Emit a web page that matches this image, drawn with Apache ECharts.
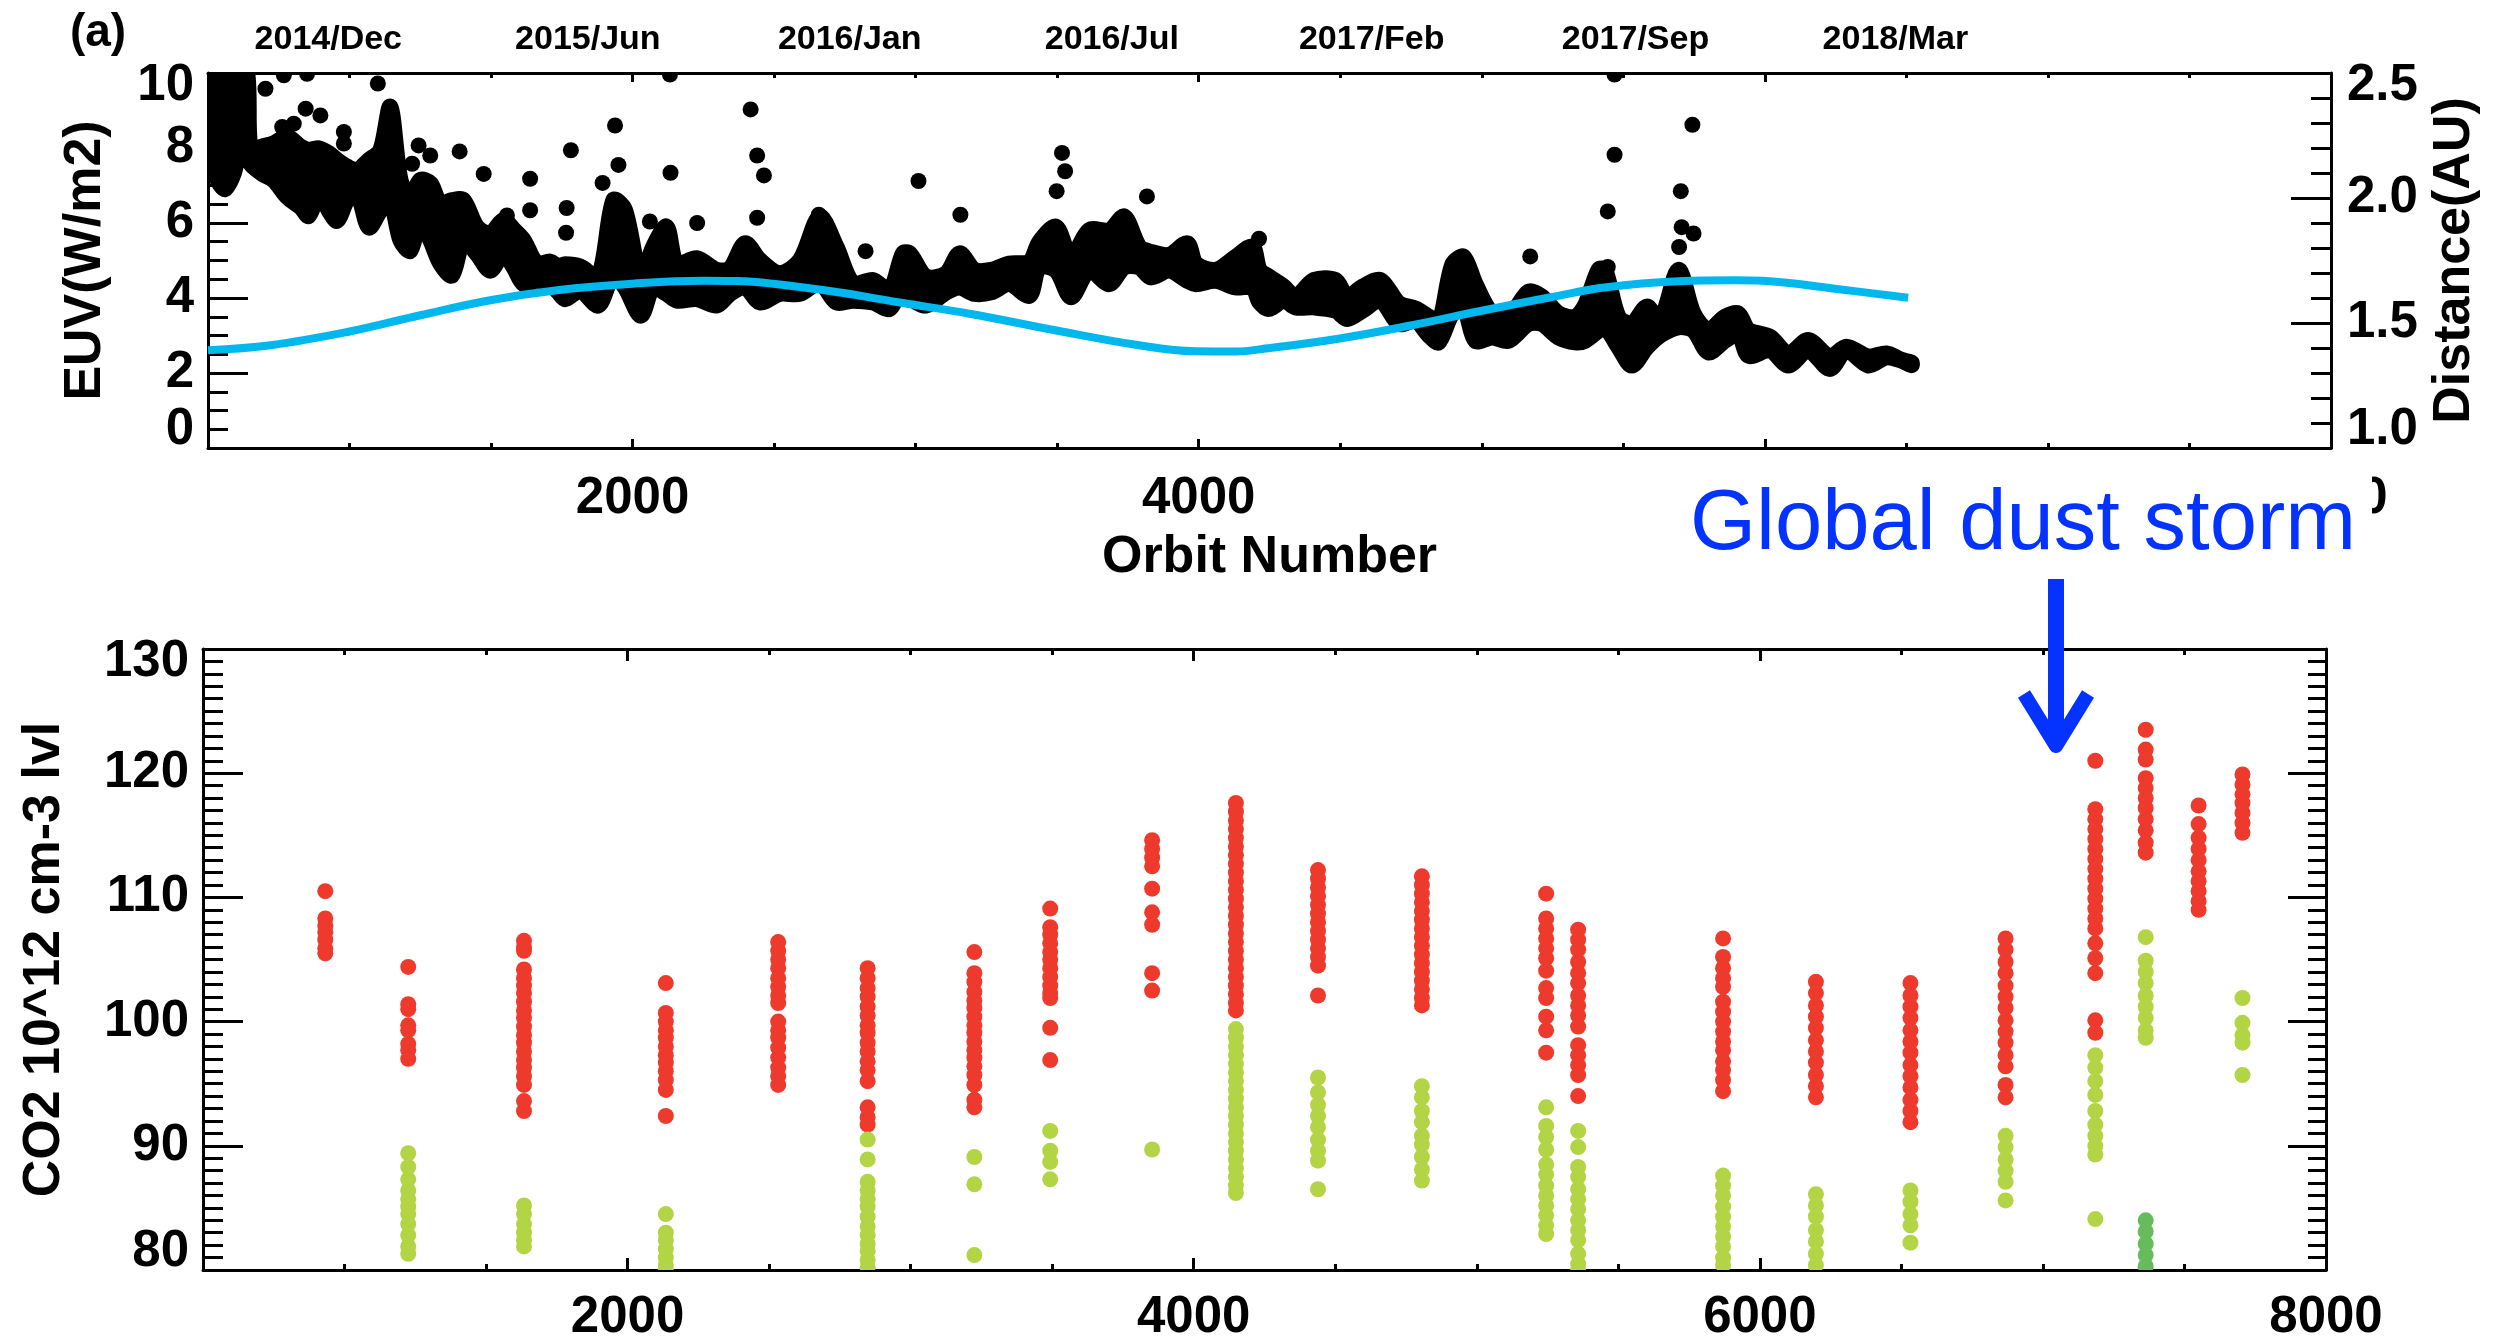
<!DOCTYPE html>
<html>
<head>
<meta charset="utf-8">
<script src="https://cdn.jsdelivr.net/npm/echarts@6/dist/echarts.min.js"></script>
<style>
  html, body { margin: 0; padding: 0; background: #fff; }
  #chart { width: 2505px; height: 1343px; }
</style>
</head>
<body>
<div id="chart"></div>
<script>
// ---------- axis ticks and labels ----------
const orbitTicks = [2000, 4000, 6000, 8000];
const dateOrbits = [925, 1842, 2767, 3693, 4611, 5543, 6461];
const dateLabels = ['2014/Dec', '2015/Jun', '2016/Jan', '2016/Jul', '2017/Feb', '2017/Sep', '2018/Mar'];

// ---------- panel (a): EUV irradiance, per-orbit spread [orbit, low, high] ----------
const euvBand = [
  [505, 8.0, 10.3], [530, 7.2, 10.3], [560, 6.9, 10.3], [590, 7.3, 10.3], [615, 8.0, 10.3], [640, 7.9, 9.9],
  [651, 7.57, 7.95], [692, 7.31, 8.04], [733, 7.13, 8.13], [780, 6.69, 8.30], [827, 6.42, 8.04], [856, 6.19, 7.95],
  [892, 6.77, 7.99], [927, 6.33, 7.86], [956, 6.06, 7.68], [992, 6.60, 7.50], [1027, 6.77, 7.41], [1068, 5.88, 7.68],
  [1109, 6.33, 7.95], [1144, 6.59, 9.10], [1180, 5.53, 7.15], [1215, 5.26, 6.70], [1250, 6.06, 7.15], [1286, 5.53, 7.06],
  [1321, 4.91, 6.52], [1362, 4.60, 6.61], [1403, 5.53, 6.61], [1450, 5.17, 5.90], [1497, 4.73, 5.72], [1544, 5.17, 6.08],
  [1580, 4.81, 5.83], [1615, 4.37, 5.55], [1662, 4.46, 4.92], [1709, 4.37, 4.97], [1738, 4.15, 4.84], [1762, 3.97, 4.90],
  [1815, 4.19, 4.84], [1879, 3.80, 4.57], [1932, 4.60, 6.61], [1973, 4.28, 6.35], [2029, 3.53, 4.57], [2073, 4.28, 5.37],
  [2120, 4.11, 5.90], [2156, 3.93, 4.92], [2226, 3.97, 5.06], [2297, 3.80, 4.75], [2344, 4.11, 4.79], [2397, 4.28, 5.46],
  [2450, 3.88, 5.01], [2520, 4.11, 4.66], [2591, 4.11, 5.01], [2661, 4.40, 6.17], [2720, 3.88, 5.37], [2779, 3.93, 4.39],
  [2849, 3.88, 4.48], [2908, 3.71, 4.21], [2955, 4.37, 5.19], [2979, 4.02, 5.19], [3037, 3.80, 4.57], [3108, 4.15, 4.66],
  [3155, 4.28, 5.19], [3208, 4.11, 4.75], [3267, 4.15, 4.75], [3331, 4.37, 4.92], [3402, 4.06, 4.97], [3437, 4.82, 5.50],
  [3496, 4.73, 5.90], [3549, 4.02, 5.10], [3613, 4.73, 5.81], [3684, 4.37, 5.81], [3737, 4.82, 6.17], [3790, 4.82, 5.37],
  [3831, 4.55, 5.23], [3896, 4.73, 5.15], [3960, 4.46, 5.46], [3990, 4.37, 4.92], [4060, 4.46, 4.75], [4131, 4.28, 5.10],
  [4190, 4.28, 5.37], [4215, 3.88, 4.75], [4248, 3.71, 4.57], [4301, 3.93, 4.30], [4342, 3.75, 4.04], [4407, 3.75, 4.48],
  [4483, 3.66, 4.48], [4525, 3.44, 4.04], [4578, 3.66, 4.30], [4642, 3.93, 4.48], [4707, 3.31, 3.86], [4766, 3.39, 3.72],
  [4813, 3.00, 3.50], [4848, 2.82, 3.32], [4895, 3.57, 4.88], [4936, 3.75, 5.10], [4977, 2.86, 4.39], [5036, 2.95, 3.59],
  [5095, 2.86, 3.50], [5165, 3.31, 4.17], [5212, 3.31, 4.04], [5271, 2.95, 3.59], [5330, 2.82, 3.50], [5365, 2.86, 3.81],
  [5412, 3.13, 4.75], [5436, 3.22, 4.75], [5483, 2.68, 3.50], [5530, 2.20, 3.32], [5583, 2.68, 3.77], [5630, 3.00, 3.41],
  [5695, 3.22, 4.75], [5748, 3.13, 3.59], [5800, 2.55, 3.15], [5859, 2.86, 3.50], [5906, 3.04, 3.59], [5942, 2.46, 3.15],
  [6018, 2.60, 2.97], [6083, 2.20, 2.52], [6153, 2.60, 2.88], [6230, 2.11, 2.44], [6288, 2.60, 2.70], [6365, 2.20, 2.44],
  [6430, 2.42, 2.52], [6482, 2.33, 2.35], [6518, 2.21, 2.28]
];

// isolated high-irradiance orbits [orbit, W/m2]
const euvFlares = [
  [703, 9.58], [768, 9.94], [850, 9.98], [845, 9.05], [897, 8.87], [803, 8.65], [762, 8.56], [980, 8.43], [980, 8.12],
  [1100, 9.72], [1244, 8.07], [1285, 7.80], [1221, 7.58], [1389, 7.91], [1474, 7.31], [1638, 7.18], [1638, 6.34],
  [1556, 6.20], [1782, 7.94], [1767, 6.40], [1765, 5.74], [1938, 8.60], [1950, 7.55], [1894, 7.07], [2132, 9.96],
  [2134, 7.34], [2417, 9.03], [2440, 7.80], [2464, 7.27], [2440, 6.14], [2228, 6.00], [2061, 6.04], [2823, 5.25],
  [2658, 6.22], [3010, 7.12], [3158, 6.22], [3517, 7.87], [3528, 7.38], [3498, 6.85], [3817, 6.71], [4213, 5.58],
  [5171, 5.11], [5469, 9.96], [5469, 7.82], [5445, 6.31], [5744, 8.62], [5703, 6.85], [5706, 5.89], [5748, 5.72],
  [5697, 5.36], [5445, 4.83]
];

// Mars heliocentric distance [orbit, AU]
const marsDistance = [
  [500, 1.391], [721, 1.411], [992, 1.464], [1250, 1.531], [1497, 1.591], [1740, 1.632], [2000, 1.657], [2250, 1.669],
  [2367, 1.668], [2497, 1.657], [2720, 1.624], [2955, 1.580], [3190, 1.537], [3493, 1.471], [3778, 1.413], [3990, 1.387],
  [4131, 1.386], [4225, 1.396], [4493, 1.437], [4754, 1.491], [4991, 1.547], [5248, 1.604], [5440, 1.643], [5695, 1.667],
  [5895, 1.671], [5992, 1.669], [6247, 1.637], [6506, 1.601]
];

// ---------- panel (b): CO2 density columns per orbit ----------
const redOrbits = [932, 1225, 1634, 2135, 2532, 2848, 3225, 3493, 3853, 4149, 4439, 4806, 5245, 5358, 5870, 6198, 6532, 6868, 7185, 7363, 7550, 7705];
const redValues = [
  [110.5, 108.3, 107.7, 107.2, 106.6, 105.9, 105.5],
  [104.4, 101.4, 101.0, 99.7, 99.3, 98.2, 97.7, 97.0],
  [106.5, 106.0, 105.7, 104.2, 103.5, 102.9, 102.3, 101.6, 100.9, 100.3, 99.6, 98.9, 98.3, 97.6, 96.9, 96.3, 95.6, 94.9, 93.6, 92.8],
  [103.1, 100.7, 100.0, 99.3, 98.7, 98.0, 97.3, 96.7, 96.0, 95.3, 94.5, 92.4],
  [106.4, 105.7, 105.0, 104.3, 103.5, 102.8, 102.1, 101.5, 100.0, 99.3, 98.7, 97.9, 97.1, 96.3, 95.6, 94.9],
  [104.3, 103.5, 102.7, 102.0, 101.2, 100.5, 99.7, 99.1, 98.3, 97.6, 96.8, 96.1, 95.2, 93.1, 92.3, 91.7],
  [105.6, 103.9, 103.2, 102.4, 101.7, 101.1, 100.4, 99.7, 99.1, 98.4, 97.7, 97.1, 96.4, 95.7, 94.9, 93.7, 93.1],
  [109.1, 107.6, 107.0, 106.3, 105.6, 105.0, 104.3, 103.6, 102.9, 102.3, 101.9, 99.5, 96.9],
  [114.6, 113.9, 113.2, 112.5, 110.7, 108.8, 107.8, 103.9, 102.5],
  [117.6, 116.9, 116.2, 115.5, 114.8, 114.1, 113.4, 112.7, 112.0, 111.3, 110.6, 109.9, 109.2, 108.5, 107.8, 107.1, 106.4, 105.7, 105.0, 104.3, 103.6, 102.9, 102.2, 101.5, 100.9],
  [112.2, 111.5, 110.8, 110.1, 109.4, 108.7, 108.0, 107.3, 106.6, 105.9, 105.2, 104.5, 102.1],
  [111.7, 111.0, 110.3, 109.6, 108.9, 108.2, 107.5, 106.8, 106.1, 105.4, 104.7, 104.0, 103.3, 102.6, 101.9, 101.3],
  [110.3, 108.3, 107.5, 106.7, 105.9, 105.1, 104.1, 102.7, 101.9, 100.4, 99.3, 97.5],
  [107.4, 106.6, 105.8, 104.8, 103.9, 103.1, 102.1, 101.3, 100.5, 99.6, 98.1, 97.3, 96.5, 95.7, 94.0],
  [106.7, 105.2, 104.3, 103.5, 102.8, 101.6, 100.8, 100.0, 99.2, 98.4, 97.7, 96.8, 96.1, 95.3, 94.4],
  [103.2, 102.3, 101.3, 100.4, 99.5, 98.5, 97.6, 96.7, 95.7, 94.8, 93.9],
  [103.1, 102.1, 101.2, 100.3, 99.3, 98.4, 97.5, 96.5, 95.6, 94.7, 93.7, 92.8, 91.9],
  [106.7, 105.8, 104.8, 103.9, 102.9, 102.0, 101.1, 100.1, 99.2, 98.3, 97.3, 96.4, 94.9, 93.9],
  [121.0, 117.1, 116.3, 115.5, 114.7, 113.9, 113.1, 112.3, 111.5, 110.7, 109.9, 109.1, 108.3, 107.5, 106.3, 105.1, 103.9, 100.1, 99.1],
  [123.5, 121.9, 121.1, 119.6, 118.8, 118.0, 117.2, 116.3, 115.4, 114.4, 113.6],
  [117.4, 115.9, 114.8, 113.9, 113.0, 112.1, 111.3, 110.5, 109.7, 109.0],
  [119.9, 119.1, 118.3, 117.6, 116.8, 116.0, 115.2]
];

const greenOrbits = [1225, 1634, 2135, 2848, 3225, 3493, 3853, 4149, 4439, 4806, 5245, 5358, 5870, 6198, 6532, 6868, 7185, 7363, 7705];
const greenValues = [
  [89.4, 88.3, 87.3, 86.4, 85.7, 85.1, 84.5, 83.7, 82.8, 81.9, 81.3],
  [85.2, 84.5, 83.7, 83.0, 82.4, 81.9],
  [84.5, 83.0, 82.4, 81.7, 81.0, 80.4, 80.0],
  [90.5, 88.9, 87.1, 86.4, 85.7, 85.1, 84.3, 83.5, 82.8, 82.1, 81.5, 80.8, 80.2],
  [89.1, 86.9, 81.2],
  [91.2, 89.6, 88.7, 87.3],
  [89.7],
  [99.4, 98.7, 98.0, 97.3, 96.6, 95.9, 95.2, 94.5, 93.8, 93.1, 92.4, 91.7, 91.0, 90.3, 89.6, 88.9, 88.2, 87.5, 86.8, 86.2],
  [95.5, 94.3, 93.3, 92.4, 91.5, 90.5, 89.6, 88.8, 86.5],
  [94.8, 93.9, 92.8, 91.9, 90.8, 90.1, 89.1, 88.1, 87.2],
  [93.1, 91.6, 90.7, 89.7, 88.5, 87.7, 86.8, 86.0, 85.2, 84.4, 83.6, 82.9],
  [91.2, 89.9, 88.3, 87.5, 86.5, 85.7, 84.9, 84.0, 83.2, 82.4, 81.3, 80.5, 80.0],
  [87.6, 86.8, 86.0, 85.1, 84.3, 83.5, 82.7, 81.9, 81.0, 80.4],
  [86.1, 85.2, 84.3, 83.2, 82.3, 81.3, 80.4],
  [86.4, 85.5, 84.5, 83.6, 82.2],
  [90.8, 89.9, 88.9, 88.0, 87.1, 85.6],
  [97.3, 96.3, 95.2, 94.1, 92.8, 91.7, 90.8, 90.0, 89.3, 84.1],
  [106.8, 104.9, 104.0, 103.1, 102.1, 101.2, 100.3, 99.3, 98.7],
  [101.9, 99.9, 98.9, 98.3, 95.7]
];

const darkGreenOrbits = [7363];
const darkGreenValues = [[84.0, 83.1, 82.1, 81.2, 80.3]];

// ---------- helpers ----------
const FONT = '"Liberation Sans", Arial, Helvetica, sans-serif';
const toPoints = (orbits, values) => orbits.flatMap((o, i) => values[i].map(v => [o, v]));
const tickLine = { color: '#000', width: 3 };
const labelFont = { fontFamily: FONT, fontSize: 51, fontWeight: 'bold', color: '#000' };
const nameFont = { fontFamily: FONT, fontSize: 52, fontWeight: 'bold', color: '#000' };

function orbitAxis(gridIndex, position, extra) {
  return Object.assign({
    type: 'value', gridIndex, position, min: 500, max: 8000,
    splitLine: { show: false },
    axisLine: { show: false },
    axisTick: { show: false },
    axisLabel: { show: false }
  }, extra);
}

// minor (every 500) ticks with the axis line, and separate longer ticks at 2000s
function orbitAxes(gridIndex, minorLen, majorLen, labelMargin) {
  const minor = orbitAxis(gridIndex, 'bottom', {
    interval: 500,
    axisLine: { show: true, onZero: false, lineStyle: tickLine },
    axisTick: { show: true, inside: true, length: minorLen, lineStyle: tickLine },
    axisLabel: Object.assign({
      show: true, margin: labelMargin,
      formatter: v => (orbitTicks.indexOf(v) >= 0 ? String(v) : '')
    }, labelFont)
  });
  const major = orbitAxis(gridIndex, 'bottom', {
    axisTick: { show: true, inside: true, length: majorLen, customValues: orbitTicks, lineStyle: tickLine }
  });
  const topMinor = orbitAxis(gridIndex, 'top', {
    interval: 500,
    axisLine: { show: true, onZero: false, lineStyle: tickLine },
    axisTick: { show: true, inside: true, length: minorLen, lineStyle: tickLine }
  });
  const topMajor = orbitAxis(gridIndex, 'top', {
    axisTick: { show: true, inside: true, length: majorLen, customValues: orbitTicks, lineStyle: tickLine }
  });
  return [minor, major, topMinor, topMajor];
}

const xAxes0 = orbitAxes(0, 5, 9, 25);
xAxes0[0].name = 'Orbit Number';
xAxes0[0].nameLocation = 'middle';
xAxes0[0].nameGap = 84;
xAxes0[0].nameTextStyle = nameFont;

const dateAxis = orbitAxis(0, 'top', {
  axisLabel: {
    show: true, margin: 16, customValues: dateOrbits,
    formatter: v => { const i = dateOrbits.indexOf(v); return i >= 0 ? dateLabels[i] : ''; },
    fontFamily: FONT, fontSize: 34, fontWeight: 'bold', color: '#000'
  }
});

const xAxes1 = orbitAxes(1, 6, 12, 22);

// value axes: end labels sit inside the axis span, tight to the frame
function valueAxis(gridIndex, position, min, max, interval, minorSplit, showLabels, fmt) {
  const edge = Object.assign({}, labelFont);
  return {
    type: 'value', gridIndex, position, min, max, interval,
    splitLine: { show: false },
    axisLine: { show: true, onZero: false, lineStyle: tickLine },
    axisTick: { show: true, inside: true, length: 40, lineStyle: tickLine },
    minorTick: { show: true, splitNumber: minorSplit, length: 20, lineStyle: tickLine },
    minorSplitLine: { show: false },
    axisLabel: showLabels ? Object.assign({
      show: true, showMinLabel: true, showMaxLabel: true,
      margin: position === 'left' ? 14 : 16,
      verticalAlignMaxLabel: 'top', verticalAlignMinLabel: 'bottom',
      formatter: v => {
        const s = fmt(v);
        if (Math.abs(v - max) < 1e-9) return '{hi|' + s + '}';
        if (Math.abs(v - min) < 1e-9) return '{lo|' + s + '}';
        return s;
      },
      rich: {
        hi: Object.assign({ lineHeight: 25 }, edge),
        lo: Object.assign({ lineHeight: 36 }, edge)
      }
    }, labelFont) : { show: false }
  };
}

const yEuv = valueAxis(0, 'left', 0, 10, 2, 4, true, v => String(v));
Object.assign(yEuv, { name: 'EUV(W/m2)', nameLocation: 'middle', nameRotate: 90, nameGap: 96, nameTextStyle: nameFont });
const yDist = valueAxis(0, 'right', 1.0, 2.5, 0.5, 5, true, v => v.toFixed(1));
Object.assign(yDist, { name: 'Distance(AU)', nameLocation: 'middle', nameRotate: 90, nameGap: 88, nameTextStyle: nameFont });
const yCo2 = valueAxis(1, 'left', 80, 130, 10, 10, true, v => String(v));
Object.assign(yCo2, { name: 'CO2 10^12 cm-3 lvl', nameLocation: 'middle', nameRotate: 90, nameGap: 132, nameTextStyle: nameFont });
const yCo2Right = valueAxis(1, 'right', 80, 130, 10, 10, false);
yCo2Right.axisTick.length = 38;
yCo2Right.minorTick.length = 18;

// the whole spread is one rounded outline: upper edge forward, lower edge back
function renderBand(params, api) {
  if (params.dataIndex !== 0) return { type: 'group', children: [] };
  const upper = euvBand.map(b => api.coord([b[0], b[2]]));
  const lower = euvBand.slice().reverse().map(b => api.coord([b[0], b[1]]));
  return {
    type: 'polygon',
    shape: { points: upper.concat(lower), smooth: 0.3 },
    style: { fill: '#000', stroke: '#000', lineWidth: 16, lineJoin: 'round' }
  };
}

// filled round markers, clipped to the plotting frame
function dotRenderer(color) {
  return (params, api) => {
    const p = api.coord([api.value(0), api.value(1)]);
    return { type: 'circle', shape: { cx: p[0], cy: p[1], r: 8 }, style: { fill: color } };
  };
}

const BLUE = '#0433ff';

const option = {
  backgroundColor: '#fff',
  animation: false,
  grid: [
    { left: 208, right: 174, top: 73, height: 375 },
    { left: 203, right: 179, top: 649, height: 624 }
  ],
  xAxis: [...xAxes0, dateAxis, ...xAxes1],
  yAxis: [yEuv, yDist, yCo2, yCo2Right],
  series: [
    {
      name: 'EUV', type: 'custom', xAxisIndex: 0, yAxisIndex: 0,
      data: euvBand, encode: { x: 0, y: [1, 2] },
      renderItem: renderBand, clip: true, z: 2
    },
    {
      name: 'EUV flares', type: 'custom', xAxisIndex: 0, yAxisIndex: 0,
      data: euvFlares, encode: { x: 0, y: 1 },
      renderItem: dotRenderer('#000'), clip: true, z: 3
    },
    {
      name: 'Distance', type: 'line', xAxisIndex: 0, yAxisIndex: 1,
      data: marsDistance, smooth: 0.4, symbol: 'none',
      lineStyle: { color: '#00b7ee', width: 8 }, z: 4
    },
    {
      name: 'CO2 high', type: 'custom', xAxisIndex: 5, yAxisIndex: 2,
      data: toPoints(redOrbits, redValues), encode: { x: 0, y: 1 },
      renderItem: dotRenderer('#ee3a2d'), clip: true
    },
    {
      name: 'CO2 low', type: 'custom', xAxisIndex: 5, yAxisIndex: 2,
      data: toPoints(greenOrbits, greenValues), encode: { x: 0, y: 1 },
      renderItem: dotRenderer('#b3d445'), clip: true
    },
    {
      name: 'CO2 storm', type: 'custom', xAxisIndex: 5, yAxisIndex: 2,
      data: toPoints(darkGreenOrbits, darkGreenValues), encode: { x: 0, y: 1 },
      renderItem: dotRenderer('#66bc5c'), clip: true
    }
  ],
  graphic: [
    {
      type: 'text', x: 98, y: 33, z: 50,
      style: { text: '(a)', font: 'bold 46px ' + FONT, fill: '#000', align: 'center', verticalAlign: 'middle' }
    },
    {
      type: 'text', x: 2027, y: 526, z: 100,
      style: {
        text: 'Global dust storm', font: '85px ' + FONT, fill: BLUE,
        align: 'center', verticalAlign: 'middle',
        backgroundColor: '#fff', padding: [14, 16, 4, 8]
      }
    },
    {
      type: 'line', z: 100,
      shape: { x1: 2056, y1: 579, x2: 2056, y2: 744 },
      style: { stroke: BLUE, lineWidth: 16, lineCap: 'butt' }
    },
    {
      type: 'polyline', z: 100,
      shape: { points: [[2024, 694], [2056, 746], [2088, 694]] },
      style: { stroke: BLUE, lineWidth: 14, lineJoin: 'round', fill: null }
    }
  ]
};

const chart = echarts.init(document.getElementById('chart'), null, { width: 2505, height: 1343 });
chart.setOption(option);
</script>
</body>
</html>
